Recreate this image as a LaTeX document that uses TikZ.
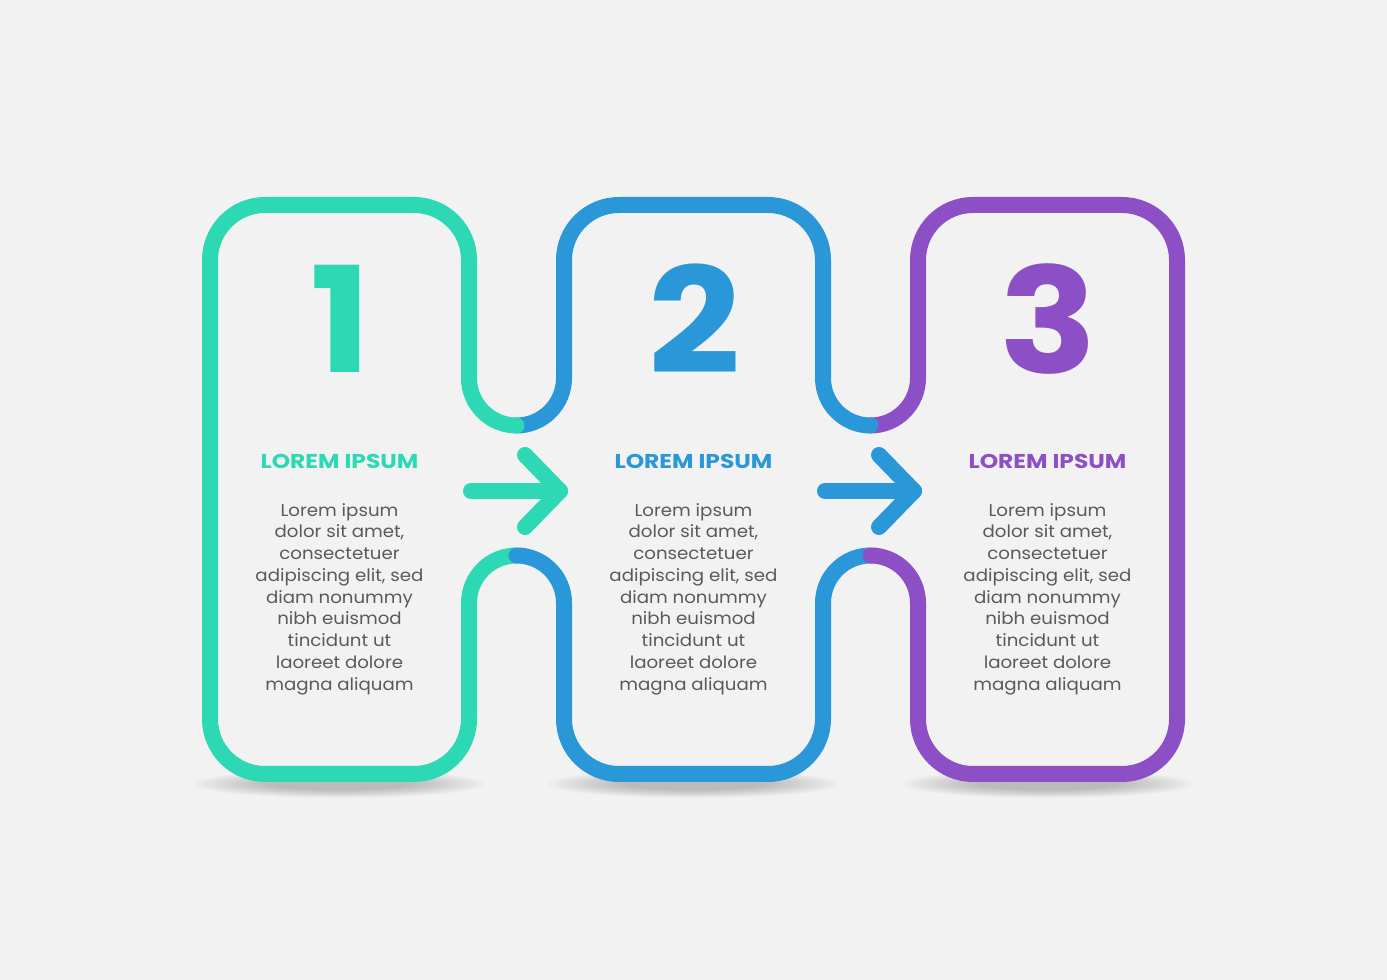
\documentclass[tikz,border=0pt]{standalone}
\usepackage{fontspec}
\setmainfont{Poppins}
\newfontfamily\numfont[FakeStretch=1.1]{Poppins}
\newfontfamily\titlefont[FakeStretch=1.17]{Poppins}
\newfontfamily\bodyfont[FakeStretch=1.07]{Poppins}
\definecolor{bgc}{HTML}{F2F2F2}
\definecolor{tealc}{HTML}{2DD9B4}
\definecolor{bluec}{HTML}{2A97D8}
\definecolor{purplec}{HTML}{8C4FC5}
\definecolor{textc}{HTML}{5A5A5A}
\tikzset{
  outline/.style={line width=16pt, line cap=round, line join=round},
  arrowline/.style={line width=16pt, line cap=round, line join=round},
  numtext/.style={font=\numfont\fontsize{147}{150}\selectfont\bfseries, inner sep=0pt},
  titletext/.style={font=\titlefont\fontsize{20}{24}\selectfont\bfseries, inner sep=0pt},
  bodytext/.style={font=\bodyfont\fontsize{17}{21.75}\selectfont, text=textc, align=center, inner sep=0pt},
}
\begin{document}
\begin{tikzpicture}[x=1pt,y=1pt]
\useasboundingbox (0,0) rectangle (1387,980);
\fill[bgc] (0,0) rectangle (1387,980);
% shadows
\foreach \cx in {339.5,693.5,1047.5}{
  \foreach \i in {0,...,9}{
    \fill[black, opacity=0.025] (\cx,196) ellipse [x radius={145-8*\i}, y radius={14-0.9*\i}];
  }
}
% teal bottom piece
\draw[outline, tealc] (516.5,424.5) arc[start angle=90, end angle=180, radius=47.5]
  -- (469,261) arc[start angle=0, end angle=-90, radius=55]
  -- (265,206) arc[start angle=270, end angle=180, radius=55]
  -- (210,490);
% blue bottom piece
\draw[outline, bluec] (870.5,424.5) arc[start angle=90, end angle=180, radius=47.5]
  -- (823,261) arc[start angle=0, end angle=-90, radius=55]
  -- (619,206) arc[start angle=270, end angle=180, radius=55]
  -- (564,377) arc[start angle=0, end angle=90, radius=47.5];
% purple whole
\draw[outline, purplec] (870.5,554.5) arc[start angle=270, end angle=360, radius=47.5]
  -- (918,720) arc[start angle=180, end angle=90, radius=55]
  -- (1122,775) arc[start angle=90, end angle=0, radius=55]
  -- (1177,261) arc[start angle=0, end angle=-90, radius=55]
  -- (973,206) arc[start angle=270, end angle=180, radius=55]
  -- (918,377) arc[start angle=0, end angle=90, radius=47.5];
% blue top piece
\draw[outline, bluec] (516.5,554.5) arc[start angle=270, end angle=360, radius=47.5]
  -- (564,720) arc[start angle=180, end angle=90, radius=55]
  -- (768,775) arc[start angle=90, end angle=0, radius=55]
  -- (823,602) arc[start angle=180, end angle=270, radius=47.5];
% teal top piece
\draw[outline, tealc] (210,490) -- (210,720) arc[start angle=180, end angle=90, radius=55]
  -- (414,775) arc[start angle=90, end angle=0, radius=55]
  -- (469,602) arc[start angle=180, end angle=270, radius=47.5];
% arrows
\coordinate (a1s) at (471,489);
\coordinate (a1t) at (560,489);
\coordinate (a1u) at (525,525);
\coordinate (a1d) at (525,453);
\draw[arrowline, tealc] (a1s) -- (a1t);
\draw[arrowline, tealc] (a1u) -- (a1t) -- (a1d);
\coordinate (a2s) at (825,489);
\coordinate (a2t) at (914,489);
\coordinate (a2u) at (879,525);
\coordinate (a2d) at (879,453);
\draw[arrowline, bluec] (a2s) -- (a2t);
\draw[arrowline, bluec] (a2u) -- (a2t) -- (a2d);
% numbers
\node[numtext, text=tealc] (n1) at (341,661) {1};
\node[numtext, text=bluec] (n2) at (694.5,661) {2};
\node[numtext, text=purplec] (n3) at (1048,661) {3};
% titles
\node[titletext, text=tealc] (t1) at (339.5,519) {LOREM IPSUM};
\node[titletext, text=bluec] (t2) at (693.5,519) {LOREM IPSUM};
\node[titletext, text=purplec] (t3) at (1047.5,519) {LOREM IPSUM};
% bodies
\foreach \cx/\nm in {339.5/b1,693.5/b2,1047.5/b3}{
  \node[bodytext] (\nm) at (\cx,381) {Lorem ipsum\\dolor sit amet,\\consectetuer\\adipiscing elit, sed\\diam nonummy\\nibh euismod\\tincidunt ut\\laoreet dolore\\magna aliquam};
}
\end{tikzpicture}
\end{document}
